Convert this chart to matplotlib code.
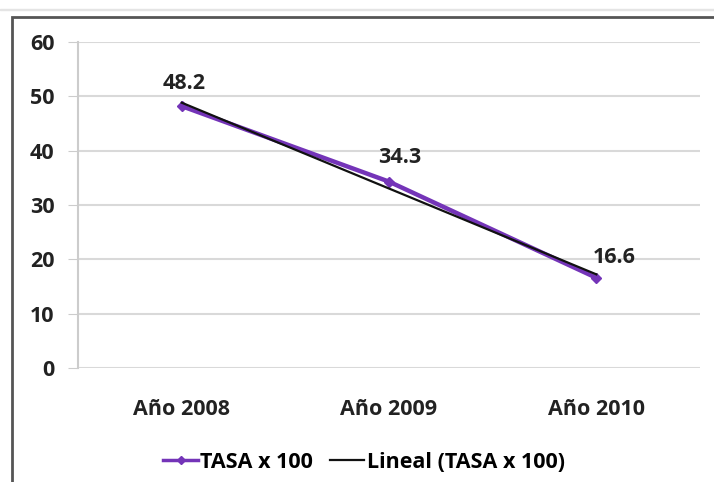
import matplotlib
matplotlib.use("Agg")
import matplotlib.pyplot as plt
from matplotlib.lines import Line2D
from matplotlib.patches import Rectangle
import numpy as np

categories = ["Año 2008", "Año 2009", "Año 2010"]
tasa = [48.2, 34.3, 16.6]
yticks = [0, 10, 20, 30, 40, 50, 60]

plt.rcParams['font.family'] = ['Open Sans', 'DejaVu Sans']
plt.rcParams['font.weight'] = 'bold'

fig = plt.figure(figsize=(7.14, 4.82), dpi=100)
W, H = 714, 482
# outer chart frame
fig.patches.append(Rectangle((12 / W, -0.05), 1.0, (H - 17) / H + 0.05, transform=fig.transFigure,
                             fill=False, edgecolor='#555555', linewidth=2.0, zorder=0))
fig.patches.append(Rectangle((0, (H - 10) / H), 1.0, 0.002, transform=fig.transFigure,
                             color='#e4e4e4', zorder=0))

left, right = 78, 700
top, bottom = 42, 368
ax = fig.add_axes([left / W, (H - bottom) / H, (right - left) / W, (bottom - top) / H])
x = np.arange(len(categories)) + 0.5
ax.set_xlim(0, 3)
ax.set_ylim(0, 60)
ax.set_yticks(yticks)
ax.set_xticks(x)
ax.set_xticklabels(categories, fontsize=15.5, fontweight='bold', color='#222222')
ax.tick_params(axis='y', labelsize=15.5, length=7, color='#cccccc', labelcolor='#222222', pad=10)
ax.tick_params(axis='x', length=0, pad=22)
for t in ax.get_yticklabels():
    t.set_fontweight('bold')
ax.grid(axis='y', color='#d9d9d9', linewidth=1.5)
ax.set_axisbelow(True)
for s in ['top', 'right', 'bottom']:
    ax.spines[s].set_visible(False)
ax.spines['left'].set_color('#cccccc')
ax.spines['left'].set_linewidth(1.5)

purple = '#7434b8'
ax.plot(x, tasa, color=purple, linewidth=3.2, marker='D', markersize=5, zorder=3)
# linear trendline
idx = np.arange(len(tasa))
m, b = np.polyfit(idx, tasa, 1)
trend = m * idx + b
ax.plot(x, trend, color='#111111', linewidth=1.6, zorder=4)

offsets = [(2, 16.5), (8, 17.5), (13, 14.5)]
for xi, yi, (dx, dy) in zip(x, tasa, offsets):
    ax.annotate(f"{yi:.1f}", (xi, yi), xytext=(dx, dy), textcoords='offset points',
                ha='center', va='center', fontsize=15.5, fontweight='bold', color='#222222')

handles = [Line2D([], [], color=purple, linewidth=2.5, marker='D', markersize=4),
           Line2D([], [], color='#111111', linewidth=1.6)]
fig.legend(handles, ["TASA x 100", "Lineal (TASA x 100)"], loc='center',
           bbox_to_anchor=(364 / W, (H - 462) / H), ncol=2, frameon=False,
           handlelength=1.6, handletextpad=0.1, columnspacing=0.8,
           prop={'family': ['Open Sans', 'DejaVu Sans'], 'weight': 'bold', 'size': 15.5})

fig.savefig("out.png", dpi=100)
